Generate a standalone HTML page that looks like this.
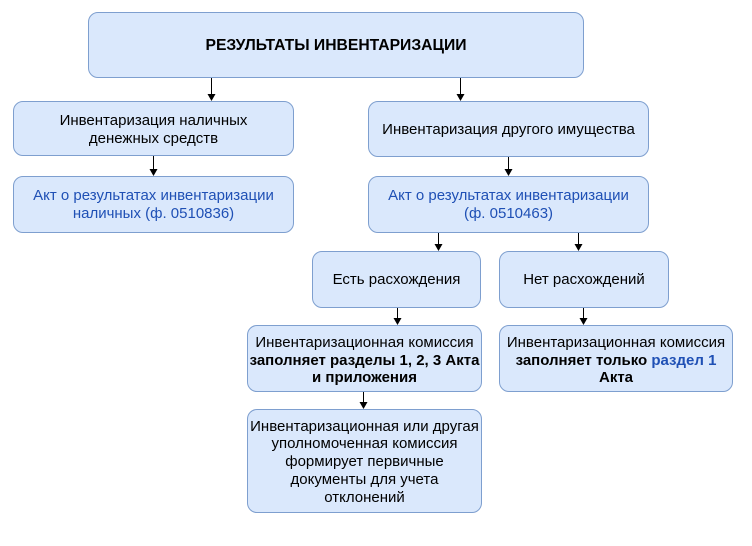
<!DOCTYPE html>
<html>
<head>
<meta charset="utf-8">
<style>
  html, body { margin:0; padding:0; background:#ffffff; }
  body { width:752px; height:546px; position:relative; overflow:hidden;
         font-family:"Liberation Sans", Arial, sans-serif; color:#000; }
  .b { position:absolute; box-sizing:border-box; background:#dae8fc; border:1px solid #7e9fcf;
       border-radius:10px; display:flex; align-items:center; justify-content:center;
       text-align:center; font-size:15px; line-height:17.8px; }
  .b > div { width:100%; }
  .blue { color:#1f50b5; }
  svg { position:absolute; left:0; top:0; }
</style>
</head>
<body>
<div class="b" style="left:88px;top:12px;width:496px;height:66px;font-weight:bold;font-size:15.7px;padding-top:2px;"><div>РЕЗУЛЬТАТЫ ИНВЕНТАРИЗАЦИИ</div></div>

<div class="b" style="left:13px;top:101px;width:281px;height:55px;padding-top:2px;"><div>Инвентаризация наличных<br>денежных средств</div></div>
<div class="b blue" style="left:13px;top:176px;width:281px;height:57px;padding-top:1px;"><div>Акт о результатах инвентаризации<br>наличных (ф. 0510836)</div></div>

<div class="b" style="left:368px;top:101px;width:281px;height:56px;padding-top:2px;"><div>Инвентаризация другого имущества</div></div>
<div class="b blue" style="left:368px;top:176px;width:281px;height:57px;padding-top:1px;"><div>Акт о результатах инвентаризации<br>(ф. 0510463)</div></div>

<div class="b" style="left:312px;top:251px;width:169px;height:57px;"><div>Есть расхождения</div></div>
<div class="b" style="left:499px;top:251px;width:170px;height:57px;"><div>Нет расхождений</div></div>

<div class="b" style="left:247px;top:325px;width:235px;height:67px;padding-top:4px;"><div>Инвентаризационная комиссия<br><b>заполняет разделы 1, 2, 3 Акта<br>и приложения</b></div></div>
<div class="b" style="left:499px;top:325px;width:234px;height:67px;padding-top:4px;"><div>Инвентаризационная комиссия<br><b>заполняет только <span class="blue">раздел 1</span><br>Акта</b></div></div>

<div class="b" style="left:247px;top:409px;width:235px;height:104px;padding-top:2px;"><div>Инвентаризационная или другая<br>уполномоченная комиссия<br>формирует первичные<br>документы для учета<br>отклонений</div></div>

<svg width="752" height="546" viewBox="0 0 752 546">
  <g stroke="#000" stroke-width="1" fill="none">
    <line x1="211.5" y1="78" x2="211.5" y2="95"/>
    <line x1="460.5" y1="78" x2="460.5" y2="95"/>
    <line x1="153.5" y1="156" x2="153.5" y2="170"/>
    <line x1="508.5" y1="157" x2="508.5" y2="170"/>
    <line x1="438.5" y1="233" x2="438.5" y2="245"/>
    <line x1="578.5" y1="233" x2="578.5" y2="245"/>
    <line x1="397.5" y1="308" x2="397.5" y2="319"/>
    <line x1="583.5" y1="308" x2="583.5" y2="319"/>
    <line x1="363.5" y1="392" x2="363.5" y2="403"/>
  </g>
  <g fill="#000">
    <path d="M207.5 94 L215.5 94 L211.5 101 Z"/>
    <path d="M456.5 94 L464.5 94 L460.5 101 Z"/>
    <path d="M149.5 169 L157.5 169 L153.5 176 Z"/>
    <path d="M504.5 169 L512.5 169 L508.5 176 Z"/>
    <path d="M434.5 244 L442.5 244 L438.5 251 Z"/>
    <path d="M574.5 244 L582.5 244 L578.5 251 Z"/>
    <path d="M393.5 318 L401.5 318 L397.5 325 Z"/>
    <path d="M579.5 318 L587.5 318 L583.5 325 Z"/>
    <path d="M359.5 402 L367.5 402 L363.5 409 Z"/>
  </g>
</svg>
</body>
</html>
